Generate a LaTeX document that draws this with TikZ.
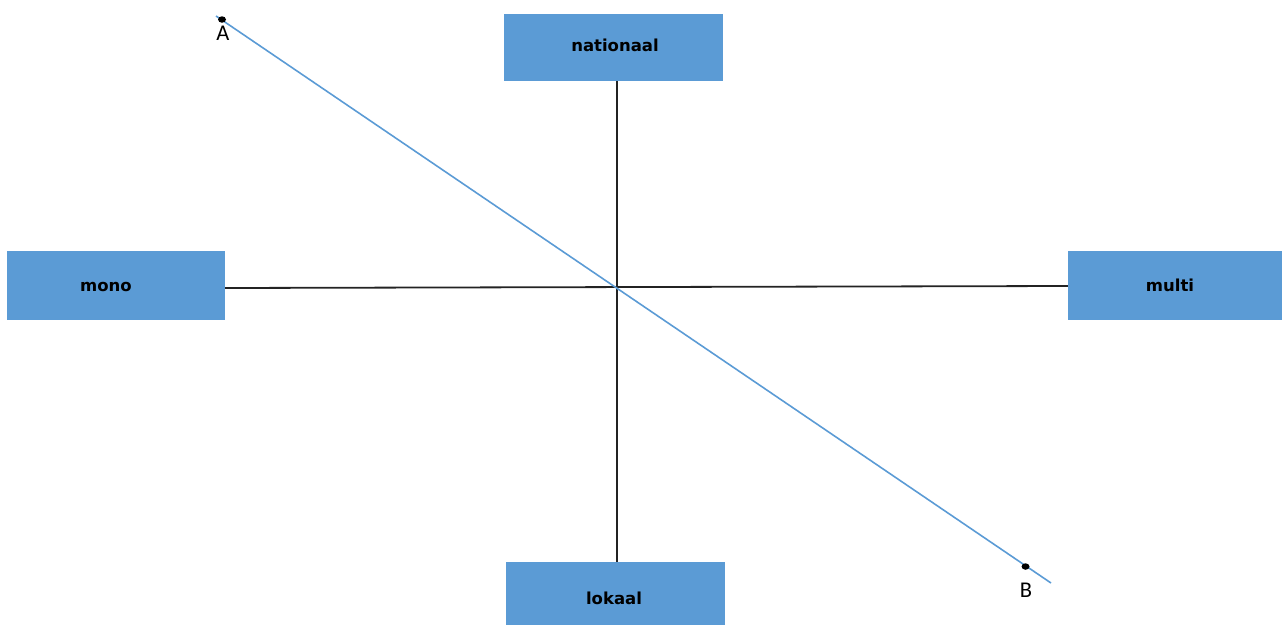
\documentclass[tikz,border=0pt]{standalone}
\usepackage{fontspec}
\newfontfamily\boxfont{DejaVu Sans}
\newfontfamily\labelfont{Carlito}
\definecolor{boxblue}{RGB}{91,155,213}
\definecolor{axisgrey}{RGB}{35,35,35}
\definecolor{lineblue}{RGB}{91,155,213}
\tikzset{
  pole/.style={rectangle, fill=boxblue, draw=none, inner sep=0pt},
  poletext/.style={font=\boxfont\bfseries\fontsize{16.5}{18}\selectfont, text=black, inner sep=0pt},
  axis/.style={draw=axisgrey, line width=1.8pt},
  diag/.style={draw=lineblue, line width=1.6pt},
  endpoint/.style={ellipse, fill=black, inner sep=0pt, minimum width=8pt, minimum height=6.5pt},
  tag/.style={font=\labelfont\fontsize{22.5}{26}\selectfont, text=black, inner sep=0pt}
}
\usetikzlibrary{shapes.geometric}
\begin{document}
\begin{tikzpicture}[x=1pt,y=-1pt]
\useasboundingbox (0,0) rectangle (1282,624);
\clip (0,0) rectangle (1282,624);

% the four poles
\node[pole, minimum width=219pt, minimum height=67pt] (nationaal) at (613.5,47.5) {};
\node[poletext] (nationaaltext) at (615,45) {nationaal};
\node[pole, minimum width=218pt, minimum height=69pt] (mono) at (116,285.5) {};
\node[poletext] (monotext) at (106,287) {mono};
\node[pole, minimum width=214pt, minimum height=69pt] (multi) at (1175,285.5) {};
\node[poletext] (multitext) at (1170,285) {multi};
\node[pole, minimum width=219pt, minimum height=72pt] (lokaal) at (615.5,598) {};
\node[poletext] (lokaaltext) at (614,598) {lokaal};

% crossing point of the axes
\coordinate (o) at (617,287);

% axes
\draw[axis] (o |- nationaal.south) -- (o |- lokaal.north);
\draw[axis] ([yshift=-2.5pt]mono.east) -- ([yshift=-0.5pt]multi.west);

% diagonal A--B
\coordinate (aend) at (216,16);
\coordinate (bend) at (1051,583);
\draw[diag] (aend) -- (bend);
\node[endpoint] (a) at (222,19.5) {};
\node[endpoint] (b) at (1025.5,566.5) {};
\node[tag] (alabel) at (223,33) {A};
\node[tag] (blabel) at (1026,590) {B};
\end{tikzpicture}
\end{document}
